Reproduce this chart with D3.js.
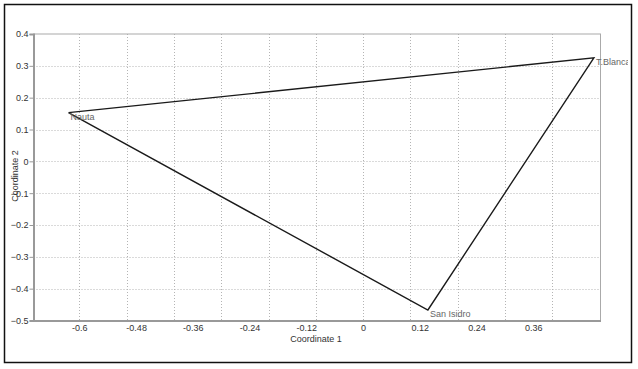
<!DOCTYPE html>
<html>
<head>
<meta charset="utf-8">
<script src="https://cdn.jsdelivr.net/npm/d3@7"></script>
<style>
  body { margin: 0; background: #fff; }
  svg { display: block; font-family: "Liberation Sans", Arial, sans-serif; }
</style>
</head>
<body>
<div id="chart"></div>
<script>
// Datos
const sites = ["Nauta", "T.Blanca", "San Isidro"];
const coord1 = [-0.623, 0.488, 0.137];
const coord2 = [0.153, 0.325, -0.467];
const xTickLabels = [-0.6, -0.48, -0.36, -0.24, -0.12, 0, 0.12, 0.24, 0.36];
const yTickLabels = [-0.5, -0.4, -0.3, -0.2, -0.1, 0, 0.1, 0.2, 0.3, 0.4];
const xGrid = [-0.6, -0.5, -0.4, -0.3, -0.2, -0.1, 0, 0.1, 0.2, 0.3, 0.4];

const width = 638;
const height = 369;
const plot = { left: 33.5, right: 600.5, top: 34, bottom: 320.5 };

const svg = d3.select("#chart")
    .append("svg")
    .attr("width", width)
    .attr("height", height);

// Marco exterior
svg.append("rect")
    .attr("x", 4.5).attr("y", 4.5)
    .attr("width", 627).attr("height", 358)
    .attr("fill", "none")
    .attr("stroke", "#111")
    .attr("stroke-width", 1.5);

const x = d3.scaleLinear().domain([-0.697, 0.502]).range([plot.left, plot.right]);
const y = d3.scaleLinear().domain([-0.5, 0.4]).range([plot.bottom, plot.top]);

// Rejilla punteada
svg.append("g")
    .selectAll("line")
    .data(xGrid)
    .enter()
    .append("line")
    .attr("x1", d => Math.round(x(d)) + 0.5)
    .attr("x2", d => Math.round(x(d)) + 0.5)
    .attr("y1", plot.top)
    .attr("y2", plot.bottom)
    .attr("stroke", "#b4b4b4")
    .attr("stroke-dasharray", "1,2");

svg.append("g")
    .selectAll("line")
    .data(yTickLabels.slice(1, -1))
    .enter()
    .append("line")
    .attr("x1", plot.left)
    .attr("x2", plot.right)
    .attr("y1", d => Math.round(y(d)) + 0.5)
    .attr("y2", d => Math.round(y(d)) + 0.5)
    .attr("stroke", "#b4b4b4")
    .attr("stroke-dasharray", "1,2");

// Marco del área de trazado
svg.append("rect")
    .attr("x", plot.left).attr("y", plot.top)
    .attr("width", plot.right - plot.left)
    .attr("height", plot.bottom - plot.top)
    .attr("fill", "none")
    .attr("stroke", "#aaa");

// Ejes
const yAxis = svg.append("g")
    .attr("transform", `translate(${plot.left},0)`)
    .call(d3.axisLeft(y).tickValues(yTickLabels).tickSize(4).tickPadding(1)
        .tickFormat(d => d === 0 ? "0" : d3.format(".1f")(d)));
yAxis.select(".domain").attr("stroke", "#999").attr("stroke-width", 2);
yAxis.selectAll(".tick line").attr("stroke", "#999");
yAxis.selectAll("text").attr("fill", "#333").attr("font-size", "9px");

const xAxis = svg.append("g")
    .attr("transform", `translate(0,${plot.bottom})`)
    .call(d3.axisBottom(x).tickValues(xTickLabels).tickSize(0).tickPadding(4)
        .tickFormat(d => d === 0 ? "0" : String(+d.toFixed(2))));
xAxis.select(".domain").attr("stroke", "#999").attr("stroke-width", 2);
xAxis.selectAll("text").attr("fill", "#333").attr("font-size", "9px");

// Títulos de ejes
svg.append("text")
    .text("Coordinate 1")
    .attr("x", 316).attr("y", 342)
    .attr("text-anchor", "middle")
    .attr("fill", "#333")
    .attr("font-size", "9px");

svg.append("text")
    .text("Coordinate 2")
    .attr("transform", "translate(18,176) rotate(-90)")
    .attr("text-anchor", "middle")
    .attr("fill", "#333")
    .attr("font-size", "9px");

// Triángulo
const points = sites.map((s, i) => [x(coord1[i]), y(coord2[i])]);
svg.append("path")
    .attr("d", d3.line()(points.concat([points[0]])))
    .attr("fill", "none")
    .attr("stroke", "#1a1a1a")
    .attr("stroke-width", 1.4);

svg.append("clipPath").attr("id", "clip")
    .append("rect").attr("x", 0).attr("y", 0).attr("width", 628).attr("height", height);

svg.append("g")
    .attr("clip-path", "url(#clip)")
    .selectAll("text")
    .data(sites)
    .enter()
    .append("text")
    .text(d => d)
    .attr("x", (d, i) => x(coord1[i]) + 2)
    .attr("y", (d, i) => y(coord2[i]) + 7)
    .attr("fill", "#666")
    .attr("font-size", "9px");
</script>
</body>
</html>
